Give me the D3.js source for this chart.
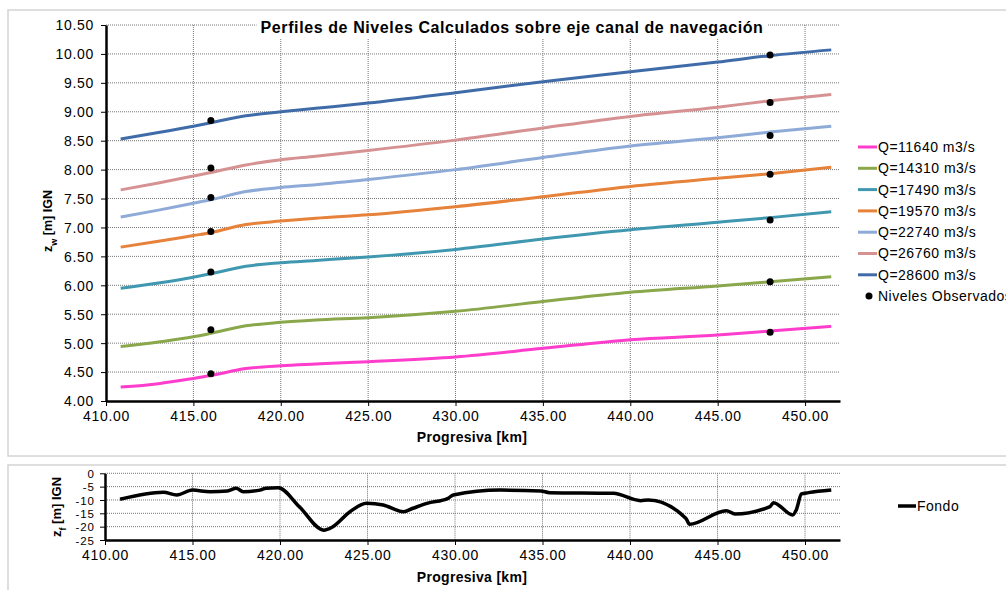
<!DOCTYPE html>
<html>
<head>
<meta charset="utf-8">
<script src="https://cdn.jsdelivr.net/npm/d3@7"></script>
<style>
    body { margin: 0; background: #fff; }
    svg text { font-family: "Liberation Sans", Arial, sans-serif; fill: #000; }
</style>
</head>
<body>
<div id="chart-wrap"></div>
<script>
// progresiva (km) where the computed profiles are read
const km = [410.84, 413, 415, 416, 418, 420, 422, 425, 430, 435, 440, 445, 448, 451.5];

const q11640 = [4.24, 4.30, 4.39, 4.44, 4.56, 4.61, 4.64, 4.68, 4.76, 4.91, 5.06, 5.14, 5.21, 5.29];
const q14310 = [4.94, 5.02, 5.11, 5.17, 5.30, 5.36, 5.40, 5.44, 5.55, 5.72, 5.88, 5.99, 6.06, 6.15];
const q17490 = [5.95, 6.04, 6.14, 6.20, 6.33, 6.39, 6.43, 6.49, 6.62, 6.80, 6.96, 7.09, 7.17, 7.27];
const q19570 = [6.66, 6.76, 6.86, 6.91, 7.05, 7.11, 7.16, 7.22, 7.36, 7.53, 7.71, 7.85, 7.93, 8.04];
const q22740 = [7.18, 7.30, 7.42, 7.48, 7.62, 7.69, 7.74, 7.83, 8.00, 8.21, 8.41, 8.55, 8.65, 8.75];
const q26760 = [7.65, 7.77, 7.89, 7.95, 8.08, 8.17, 8.23, 8.33, 8.51, 8.72, 8.92, 9.08, 9.19, 9.30];
const q28600 = [8.53, 8.64, 8.75, 8.81, 8.93, 9.00, 9.06, 9.15, 9.33, 9.52, 9.69, 9.86, 9.97, 10.07];

const seriesNames = ['Q=11640 m3/s', 'Q=14310 m3/s', 'Q=17490 m3/s', 'Q=19570 m3/s',
                     'Q=22740 m3/s', 'Q=26760 m3/s', 'Q=28600 m3/s'];
const seriesColors = ['#ff3dcc', '#8aa84b', '#3f98b0', '#e6823a', '#8eaad6', '#d69293', '#3f6ca8'];

// niveles observados
const obsKm = [416, 416, 416, 416, 416, 416, 416, 448, 448, 448, 448, 448, 448, 448];
const obsZ = [4.47, 5.23, 6.23, 6.93, 7.52, 8.03, 8.85, 5.19, 6.06, 7.13, 7.92, 8.59, 9.16, 9.98];

// fondo del canal
const fondoKm = [410.86, 413.34, 414.1, 415, 416, 417, 417.5, 417.9, 418.86, 419.2, 419.9,
                 421.1, 422.5, 423, 424, 424.95, 425.9, 427.05, 427.6, 428.4, 429.6, 429.9,
                 432.6, 434.9, 435.4, 439.05, 440.6, 441.05, 443.2, 443.4, 445.5, 446,
                 448, 448.2, 449.3, 449.5, 449.8, 450.2, 451.5];
const fondoZ = [-9.75, -7.1, -8.1, -6.3, -6.9, -6.6, -5.6, -6.9, -6.3, -5.6, -5.4,
                -12.5, -21.3, -20.1, -14.4, -11.25, -11.9, -14.4, -13.1, -11.25, -9.4, -8.1,
                -6.3, -6.6, -7.25, -7.5, -10.25, -10, -16.9, -19.1, -14, -15.25,
                -12.5, -11, -15.6, -13.75, -7.75, -7.25, -6.25];

const yTicksTop = [4.0, 4.5, 5.0, 5.5, 6.0, 6.5, 7.0, 7.5, 8.0, 8.5, 9.0, 9.5, 10.0, 10.5];
const yTicksBottom = [0, -5, -10, -15, -20, -25];
const xTicks = [410, 415, 420, 425, 430, 435, 440, 445, 450];

const svg = d3.select('#chart-wrap')
    .append('svg')
    .attr('width', 1006)
    .attr('height', 590);

// chart frames
svg.append('rect')
    .attr('x', 8).attr('y', 10)
    .attr('width', 1010).attr('height', 446)
    .attr('fill', '#fff').attr('stroke', '#d4d4d4').attr('stroke-width', 1.5);

svg.append('rect')
    .attr('x', 8).attr('y', 465)
    .attr('width', 1010).attr('height', 140)
    .attr('fill', '#fff').attr('stroke', '#d4d4d4').attr('stroke-width', 1.5);

function styleAxis(a) {
    a.select('.domain').attr('stroke', '#000').attr('stroke-width', 2.5);
    a.selectAll('.tick line').attr('stroke', '#000');
    a.selectAll('text')
        .style('font-size', '14px')
        .style('letter-spacing', '0.7px')
        .style('font-family', '"Liberation Sans", Arial, sans-serif');
}

// ---------- upper chart ----------
let x = d3.scaleLinear().domain([410, 452]).range([106, 840]);
let y = d3.scaleLinear().domain([4, 10.5]).range([401, 25]);

let upper = svg.append('g');

let grid = upper.append('g')
    .attr('stroke', '#767676')
    .attr('stroke-width', 1)
    .attr('stroke-dasharray', '1,1');

grid.selectAll('.hg')
    .data(yTicksTop.slice(1))
    .join('line')
        .attr('x1', x(410)).attr('x2', x(452))
        .attr('y1', d => y(d)).attr('y2', d => y(d));

grid.selectAll('.vg')
    .data(xTicks.slice(1))
    .join('line')
        .attr('x1', d => x(d)).attr('x2', d => x(d))
        .attr('y1', y(10.5)).attr('y2', y(4));

let yAxis = upper.append('g')
    .attr('transform', `translate(${x(410)},0)`)
    .call(d3.axisLeft(y).tickValues(yTicksTop).tickFormat(d3.format('.2f')).tickSize(5).tickSizeOuter(0));

let xAxis = upper.append('g')
    .attr('transform', `translate(0,${y(4)})`)
    .call(d3.axisBottom(x).tickValues(xTicks).tickFormat(d3.format('.2f')).tickSize(5).tickSizeOuter(0));

styleAxis(yAxis);
styleAxis(xAxis);
yAxis.selectAll('text').attr('x', -12).attr('dy', '0.35em');
xAxis.selectAll('text').attr('y', 10);

let series = [q11640, q14310, q17490, q19570, q22740, q26760, q28600];

let line = d3.line()
    .x((d, i) => x(km[i]))
    .y(d => y(d))
    .curve(d3.curveMonotoneX);

upper.append('g')
    .selectAll('path')
    .data(series)
    .join('path')
        .attr('d', d => line(d))
        .attr('fill', 'none')
        .attr('stroke', (d, i) => seriesColors[i])
        .attr('stroke-width', 3)
        .attr('stroke-linejoin', 'round');

upper.append('g')
    .selectAll('circle')
    .data(obsZ)
    .join('circle')
        .attr('cx', (d, i) => x(obsKm[i]))
        .attr('cy', d => y(d))
        .attr('r', 3.5)
        .attr('fill', '#000');

// title over the plot, white box behind it hides the top gridline
let titleBox = upper.append('rect').attr('fill', '#fff');

let title = upper.append('text')
    .attr('x', 512)
    .attr('y', 33)
    .attr('text-anchor', 'middle')
    .style('font-size', '16px')
    .style('letter-spacing', '0.6px')
    .style('font-weight', 'bold')
    .text('Perfiles de Niveles Calculados sobre eje canal de navegación');

let tb = title.node().getBBox();
titleBox
    .attr('x', tb.x - 4).attr('y', tb.y - 2)
    .attr('width', tb.width + 8).attr('height', tb.height + 4);

upper.append('text')
    .attr('x', 472)
    .attr('y', 442)
    .attr('text-anchor', 'middle')
    .style('font-size', '14px')
    .style('letter-spacing', '0.3px')
    .style('font-weight', 'bold')
    .text('Progresiva [km]');

let yLab = upper.append('text')
    .attr('transform', 'translate(52,221) rotate(-90)')
    .attr('text-anchor', 'middle')
    .style('font-size', '12.5px')
    .style('font-weight', 'bold');
yLab.append('tspan').text('z');
yLab.append('tspan').attr('baseline-shift', 'sub').style('font-size', '9px').text('w');
yLab.append('tspan').text(' [m] IGN');

// legend
let legend = upper.append('g');
let rowY = i => 147 + i * 21.3;

legend.selectAll('line')
    .data(seriesNames)
    .join('line')
        .attr('x1', 858).attr('x2', 877)
        .attr('y1', (d, i) => rowY(i)).attr('y2', (d, i) => rowY(i))
        .attr('stroke', (d, i) => seriesColors[i])
        .attr('stroke-width', 3);

legend.selectAll('text')
    .data(seriesNames.concat(['Niveles Observados']))
    .join('text')
        .attr('x', 878)
        .attr('y', (d, i) => rowY(i))
        .attr('dy', '0.35em')
        .style('font-size', '14px')
        .style('letter-spacing', '0.5px')
        .text(d => d);

legend.append('circle')
    .attr('cx', 869).attr('cy', rowY(7))
    .attr('r', 3.5)
    .attr('fill', '#000');

// ---------- lower chart ----------
let x2 = d3.scaleLinear().domain([410, 452]).range([105, 840]);
let y2 = d3.scaleLinear().domain([-25, 0]).range([540, 473.3]);

let lower = svg.append('g');

let grid2 = lower.append('g')
    .attr('stroke', '#767676')
    .attr('stroke-width', 1)
    .attr('stroke-dasharray', '1,1');

grid2.selectAll('.hg')
    .data(yTicksBottom.slice(0, -1))
    .join('line')
        .attr('x1', x2(410)).attr('x2', x2(452))
        .attr('y1', d => y2(d)).attr('y2', d => y2(d));

grid2.selectAll('.vg')
    .data(xTicks.slice(1))
    .join('line')
        .attr('x1', d => x2(d)).attr('x2', d => x2(d))
        .attr('y1', y2(0)).attr('y2', y2(-25));

let yAxis2 = lower.append('g')
    .attr('transform', `translate(${x2(410)},0)`)
    .call(d3.axisLeft(y2).tickValues(yTicksBottom).tickFormat(d => String(d)).tickSize(5).tickSizeOuter(0));

let xAxis2 = lower.append('g')
    .attr('transform', `translate(0,${y2(-25)})`)
    .call(d3.axisBottom(x2).tickValues(xTicks).tickFormat(d3.format('.2f')).tickSize(5).tickSizeOuter(0));

styleAxis(yAxis2);
styleAxis(xAxis2);
// ticks are only 13 px apart here, so a smaller size keeps them from touching
yAxis2.selectAll('text')
    .attr('x', -10)
    .attr('dy', '0.35em')
    .style('font-size', '11.5px')
    .style('letter-spacing', '1px');
xAxis2.selectAll('text').attr('y', 10);

let fondoLine = d3.line()
    .x((d, i) => x2(fondoKm[i]))
    .y(d => y2(d))
    .curve(d3.curveMonotoneX);

lower.append('path')
    .attr('d', fondoLine(fondoZ))
    .attr('fill', 'none')
    .attr('stroke', '#000')
    .attr('stroke-width', 3.5)
    .attr('stroke-linejoin', 'round');

lower.append('text')
    .attr('x', 472)
    .attr('y', 582)
    .attr('text-anchor', 'middle')
    .style('font-size', '14px')
    .style('letter-spacing', '0.3px')
    .style('font-weight', 'bold')
    .text('Progresiva [km]');

let yLab2 = lower.append('text')
    .attr('transform', 'translate(61,507) rotate(-90)')
    .attr('text-anchor', 'middle')
    .style('font-size', '13px')
    .style('font-weight', 'bold');
yLab2.append('tspan').text('z');
yLab2.append('tspan').attr('baseline-shift', 'sub').style('font-size', '9px').text('f');
yLab2.append('tspan').text(' [m] IGN');

lower.append('line')
    .attr('x1', 898).attr('x2', 916)
    .attr('y1', 506).attr('y2', 506)
    .attr('stroke', '#000')
    .attr('stroke-width', 3.5);

lower.append('text')
    .attr('x', 917)
    .attr('y', 506)
    .attr('dy', '0.35em')
    .style('font-size', '14px')
    .style('letter-spacing', '0.5px')
    .text('Fondo');
</script>
</body>
</html>
